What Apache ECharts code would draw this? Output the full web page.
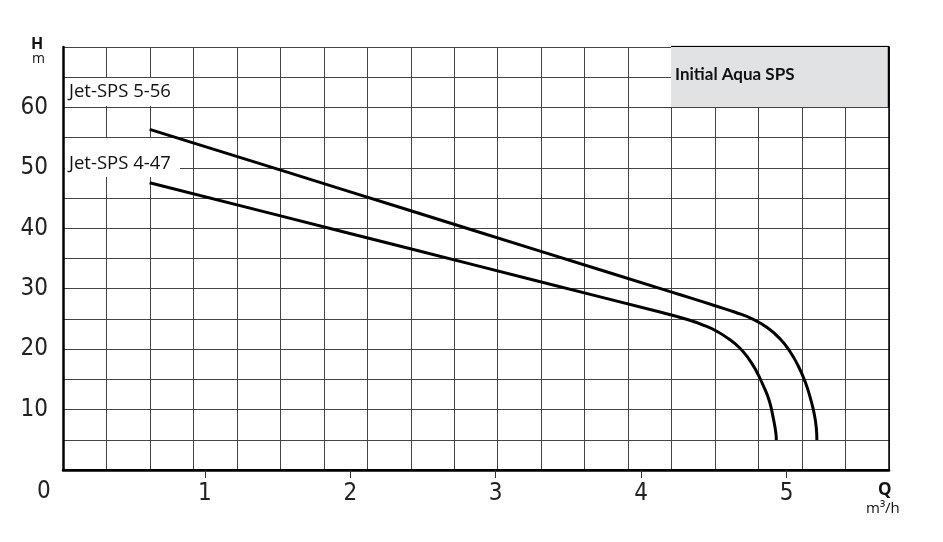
<!DOCTYPE html>
<html><head><meta charset="utf-8">
<script src="https://cdn.jsdelivr.net/npm/echarts@6/dist/echarts.min.js"></script>
<style>html,body{margin:0;padding:0;background:#fff}#c{width:943px;height:542px}</style>
</head><body><div id="c"></div>
<script>
// ---- data ----
const xTickValues = [1, 2, 3, 4, 5];
const yTickValues = [10, 20, 30, 40, 50, 60];
const seriesNames = ['Jet-SPS 5-56', 'Jet-SPS 4-47'];
const chartTitle = 'Initial Aqua SPS';
const q556 = [0.62, 1.5, 2.4, 3.3, 4.2, 4.35, 4.503, 4.647, 4.764, 4.867, 4.957, 5.026, 5.081, 5.129, 5.164, 5.191, 5.205, 5.209];
const h556 = [56.37, 49.78, 43.02, 36.26, 29.51, 28.4, 27.22, 26.1, 25.02, 23.58, 21.68, 19.53, 17.21, 14.56, 11.91, 9.27, 6.95, 4.96];
const q447 = [0.62, 1.5, 2.4, 3.3, 4.15, 4.324, 4.427, 4.517, 4.599, 4.675, 4.737, 4.792, 4.84, 4.882, 4.909, 4.926, 4.93];
const h447 = [47.54, 42.18, 36.69, 31.19, 26.01, 24.86, 23.99, 23.0, 21.76, 20.27, 18.53, 16.38, 13.98, 11.42, 8.6, 6.29, 4.96];

const zip = (a, b) => a.map((v, i) => [v, b[i]]);
const numFont = '"Liberation Sans Narrow","DejaVu Sans Condensed",sans-serif';
const gridCol = '#444';

const chart = echarts.init(document.getElementById('c'));
chart.setOption({
  animation: false,
  backgroundColor: '#fff',
  grid: { left: 63, right: 54, top: 47, bottom: 72 },
  xAxis: [
    { type: 'value', position: 'top', min: 0, max: 19, interval: 1,
      axisLine: { show: true, lineStyle: { color: '#000', width: 2 } },
      axisTick: { show: false }, axisLabel: { show: false },
      splitLine: { show: true, lineStyle: { color: gridCol, width: 1 } } },
    { type: 'value', position: 'bottom', min: 0.024, max: 5.705,
      axisLine: { show: true, onZero: false, lineStyle: { color: '#000', width: 2.5 } },
      axisTick: { show: true, customValues: xTickValues, length: 8, lineStyle: { color: '#333', width: 1 } },
      axisLabel: { show: true, customValues: xTickValues, fontSize: 24, fontFamily: numFont, color: '#222', margin: 12 },
      splitLine: { show: false } }
  ],
  yAxis: [
    { type: 'value', min: 0, max: 70, interval: 5,
      axisLine: { show: true, onZero: false, lineStyle: { color: '#000', width: 2.5 } },
      axisTick: { show: false },
      axisLabel: { show: true, customValues: yTickValues, fontSize: 24, fontFamily: numFont, color: '#222', margin: 15 },
      splitLine: { show: true, lineStyle: { color: gridCol, width: 1 } } },
    { type: 'value', position: 'right', min: 0, max: 70, interval: 5,
      axisLine: { show: true, onZero: false, lineStyle: { color: '#000', width: 1.5 } },
      axisTick: { show: false }, axisLabel: { show: false }, splitLine: { show: false } }
  ],
  series: [
    { name: seriesNames[0], type: 'line', xAxisIndex: 1, yAxisIndex: 0, data: zip(q556, h556),
      showSymbol: false, smooth: 0.5, lineStyle: { color: '#000', width: 3 }, z: 5 },
    { name: seriesNames[1], type: 'line', xAxisIndex: 1, yAxisIndex: 0, data: zip(q447, h447),
      showSymbol: false, smooth: 0.5, lineStyle: { color: '#000', width: 3 }, z: 5 }
  ],
  graphic: [
    { type: 'rect', z: 1, shape: { x: 65, y: 78, width: 122, height: 28 }, style: { fill: '#fff' } },
    { type: 'rect', z: 1, shape: { x: 65, y: 138, width: 115, height: 39 }, style: { fill: '#fff' } },
    { type: 'text', z: 11, left: 69, top: 82, style: { text: seriesNames[0], font: '18.5px "Open Sans"', fill: '#111' } },
    { type: 'text', z: 11, left: 69, top: 154, style: { text: seriesNames[1], font: '18.5px "Open Sans"', fill: '#111' } },
    { type: 'rect', z: 10, shape: { x: 671, y: 45, width: 218, height: 62 }, style: { fill: '#e1e2e4' } },
    { type: 'line', z: 11, shape: { x1: 671, y1: 46.5, x2: 889, y2: 46.5 }, style: { stroke: '#000', lineWidth: 1 } },
    { type: 'line', z: 11, shape: { x1: 888.5, y1: 46, x2: 888.5, y2: 107 }, style: { stroke: '#000', lineWidth: 1.5 } },
    { type: 'text', z: 11, left: 675, top: 66, style: { text: chartTitle, font: 'bold 17px Lato', fill: '#111' } },
    { type: 'text', z: 11, left: 31, top: 36, style: { text: 'H', font: 'bold 16px "Open Sans"', fill: '#111' } },
    { type: 'text', z: 11, left: 32, top: 52, style: { text: 'm', font: '14px "Open Sans"', fill: '#111' } },
    { type: 'text', z: 11, left: 37, top: 480, style: { text: '0', font: '24px ' + numFont, fill: '#222' } },
    { type: 'text', z: 11, left: 878, top: 482, style: { text: 'Q', font: 'bold 17px "Open Sans"', fill: '#111' } },
    { type: 'text', z: 11, left: 866, top: 501, style: { text: 'm³/h', font: '15px "Open Sans"', fill: '#111' } }
  ]
});
</script></body></html>
